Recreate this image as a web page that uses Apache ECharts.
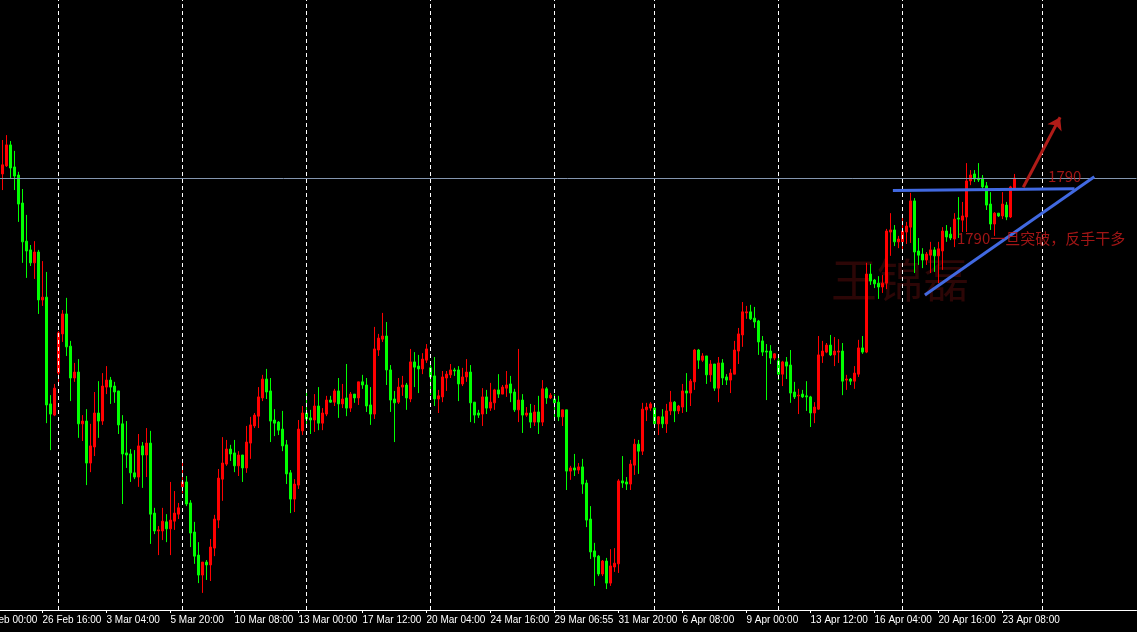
<!DOCTYPE html>
<html>
<head>
<meta charset="utf-8">
<script src="https://cdn.jsdelivr.net/npm/echarts@6/dist/echarts.min.js"></script>
<style>
html,body{margin:0;padding:0;background:#000;}
#chart{width:1137px;height:632px;}
</style>
</head>
<body>
<div id="chart"></div>
<script>
// ---- data: 4H candles, [open, close, low, high] ----
const ohlc = [
[1791.3,1793.9,1786.7,1801.0],[1793.6,1799.6,1793.3,1802.4],[1799.6,1793.0,1790.1,1800.7],[1793.3,1790.7,1786.7,1797.9],
[1791.0,1782.7,1777.6,1791.9],[1783.0,1771.9,1765.9,1787.0],[1772.1,1769.3,1761.6,1779.6],[1769.6,1765.9,1765.0,1771.0],
[1765.9,1769.0,1761.3,1772.1],[1769.0,1755.3,1751.3,1769.6],[1755.3,1756.1,1753.6,1766.4],[1756.1,1725.3,1720.1,1763.3],
[1725.6,1722.7,1712.4,1728.1],[1722.4,1730.1,1722.1,1731.3],[1734.4,1745.9,1731.0,1746.4],[1745.6,1751.3,1743.3,1752.4],
[1751.3,1741.9,1739.3,1755.9],[1742.1,1733.0,1726.4,1743.6],[1733.0,1734.7,1731.9,1737.3],[1734.7,1719.9,1715.9,1738.4],
[1719.9,1720.7,1715.0,1722.4],[1720.7,1708.7,1702.4,1724.1],[1708.7,1713.6,1706.1,1719.9],[1713.3,1723.0,1710.7,1729.0],
[1723.0,1720.7,1715.9,1732.1],[1720.7,1730.7,1719.6,1734.4],[1730.4,1732.4,1728.4,1736.4],[1732.4,1730.4,1725.6,1733.3],
[1730.7,1729.0,1725.9,1731.9],[1729.3,1719.6,1717.0,1729.3],[1719.9,1711.3,1697.0,1722.4],[1711.6,1711.0,1707.3,1720.7],
[1711.3,1705.9,1703.3,1712.7],[1705.9,1704.7,1704.1,1712.4],[1704.7,1713.6,1701.9,1717.0],[1713.6,1711.0,1701.6,1714.7],
[1711.0,1714.4,1704.7,1718.7],[1714.4,1694.1,1685.6,1717.9],[1694.4,1689.3,1688.4,1695.9],[1689.3,1689.6,1682.4,1690.7],
[1689.3,1692.1,1686.7,1695.9],[1691.9,1689.9,1686.1,1694.1],[1689.9,1692.4,1682.4,1703.3],[1692.1,1694.4,1689.6,1700.7],
[1694.1,1695.9,1692.7,1697.3],[1701.9,1703.3,1700.1,1709.9],[1703.3,1697.0,1696.4,1705.0],[1697.3,1688.7,1684.7,1698.1],
[1689.0,1682.1,1679.9,1691.9],[1682.4,1676.7,1674.4,1686.1],[1676.7,1680.4,1671.6,1680.4],[1680.4,1679.6,1675.3,1681.0],
[1679.6,1684.7,1675.0,1687.0],[1684.4,1692.7,1682.1,1693.9],[1692.4,1704.4,1690.1,1707.0],[1704.1,1708.7,1697.9,1716.1],
[1708.4,1712.7,1707.9,1715.3],[1712.7,1711.3,1709.3,1713.9],[1711.6,1707.9,1706.1,1715.3],[1707.9,1711.0,1705.0,1712.1],
[1711.0,1707.3,1703.3,1711.0],[1707.3,1714.7,1705.9,1719.3],[1714.4,1719.6,1709.9,1721.9],[1719.3,1722.4,1718.7,1723.0],
[1722.1,1727.6,1718.7,1730.4],[1727.3,1732.7,1726.4,1733.9],[1732.7,1729.0,1727.0,1735.6],[1729.3,1720.7,1714.7,1733.0],
[1721.0,1720.1,1716.4,1724.1],[1720.4,1718.1,1716.7,1720.7],[1718.4,1713.6,1712.1,1723.6],[1713.9,1705.6,1702.7,1715.3],
[1705.9,1698.4,1694.4,1706.7],[1698.4,1702.7,1694.7,1704.1],[1702.4,1718.4,1701.3,1721.0],[1717.9,1723.0,1716.7,1725.0],
[1723.0,1721.3,1719.6,1729.9],[1721.6,1721.0,1717.0,1723.9],[1721.0,1725.0,1717.6,1728.4],[1725.0,1720.1,1718.1,1730.4],
[1720.1,1723.0,1718.1,1724.4],[1722.7,1726.7,1722.1,1727.9],[1726.7,1726.1,1725.9,1727.9],[1726.1,1729.3,1725.0,1729.9],
[1729.3,1725.6,1721.6,1733.0],[1725.6,1727.0,1724.4,1731.3],[1727.3,1724.4,1722.1,1737.0],[1724.4,1728.4,1723.3,1729.0],
[1728.4,1727.3,1725.9,1728.4],[1727.3,1731.9,1725.3,1731.9],[1731.9,1731.0,1729.9,1733.9],[1731.0,1725.0,1723.3,1733.0],
[1725.3,1722.7,1719.6,1730.4],[1722.7,1741.3,1721.3,1747.6],[1741.0,1744.4,1739.3,1745.6],[1744.1,1745.0,1743.3,1751.6],
[1745.0,1735.3,1731.0,1749.0],[1735.3,1726.7,1723.3,1736.7],[1727.0,1725.9,1714.7,1729.3],[1726.1,1730.4,1725.6,1733.0],
[1730.4,1731.0,1727.9,1733.6],[1731.0,1727.3,1723.9,1731.6],[1727.0,1737.6,1726.1,1741.3],[1737.6,1736.1,1730.4,1740.4],
[1736.4,1735.6,1728.7,1739.6],[1735.6,1738.4,1734.1,1740.1],[1738.1,1741.3,1737.3,1742.7],[1735.9,1733.3,1728.1,1736.7],
[1733.6,1727.0,1725.0,1739.0],[1727.0,1727.9,1723.0,1729.6],[1727.6,1733.3,1726.1,1735.0],[1733.0,1734.1,1729.3,1735.0],
[1733.9,1735.3,1733.0,1737.0],[1735.3,1735.0,1733.6,1735.9],[1735.3,1731.3,1726.4,1736.4],[1731.3,1733.3,1730.7,1735.9],
[1733.3,1734.7,1731.9,1738.4],[1734.7,1725.9,1720.4,1736.7],[1726.1,1722.4,1720.1,1726.1],[1723.0,1722.4,1721.6,1723.9],
[1722.7,1727.6,1719.3,1730.1],[1727.6,1724.4,1722.7,1729.6],[1724.4,1726.1,1723.6,1731.6],[1725.9,1729.6,1723.9,1729.9],
[1729.6,1728.4,1727.3,1734.1],[1728.4,1730.4,1728.4,1731.0],[1730.1,1731.0,1727.6,1735.0],[1731.3,1728.7,1726.1,1733.6],
[1729.0,1723.9,1723.3,1729.9],[1723.9,1726.7,1720.4,1741.3],[1726.7,1722.4,1717.3,1728.4],[1722.4,1723.0,1721.9,1724.7],
[1723.0,1720.4,1718.7,1725.6],[1720.4,1723.3,1719.3,1725.3],[1723.3,1720.4,1717.0,1727.9],[1720.4,1729.9,1719.3,1732.4],
[1729.9,1727.3,1725.6,1730.4],[1727.3,1728.1,1727.0,1728.7],[1727.0,1725.9,1721.6,1728.4],[1726.1,1721.9,1720.7,1727.9],
[1721.9,1723.9,1719.3,1723.9],[1723.9,1706.4,1701.0,1723.9],[1706.4,1707.3,1703.9,1707.9],[1707.3,1706.7,1705.0,1711.3],
[1706.7,1707.6,1705.6,1708.7],[1707.6,1702.7,1699.9,1709.9],[1703.0,1692.4,1690.4,1703.9],[1692.7,1683.3,1681.3,1696.4],
[1683.6,1681.9,1673.6,1685.9],[1682.1,1677.0,1676.4,1682.4],[1677.0,1680.7,1676.4,1681.0],[1680.7,1674.4,1672.7,1681.6],
[1674.4,1679.3,1673.6,1684.1],[1679.0,1680.1,1677.6,1684.4],[1679.9,1703.6,1677.3,1704.1],[1703.6,1703.0,1701.6,1710.7],
[1703.3,1702.7,1701.0,1704.7],[1702.7,1708.4,1701.0,1709.6],[1708.1,1714.1,1705.3,1715.6],[1714.1,1712.1,1705.6,1715.3],
[1712.1,1724.1,1711.0,1725.9],[1723.9,1724.7,1720.7,1725.9],[1724.4,1725.6,1723.6,1726.1],[1724.4,1719.9,1719.9,1725.3],
[1719.9,1721.9,1716.7,1722.1],[1721.9,1719.9,1718.7,1724.1],[1719.9,1723.6,1717.3,1725.6],[1723.6,1726.1,1722.4,1729.3],
[1726.1,1723.6,1720.4,1726.4],[1723.6,1725.0,1722.7,1725.3],[1724.7,1729.3,1723.0,1731.3],[1729.3,1728.7,1723.3,1734.4],
[1728.7,1732.1,1725.0,1732.7],[1731.9,1741.0,1729.6,1741.3],[1741.0,1738.1,1735.6,1741.3],[1738.1,1739.3,1737.6,1740.1],
[1739.3,1733.9,1731.3,1739.3],[1733.9,1737.0,1731.9,1738.1],[1737.0,1730.1,1729.3,1737.0],[1730.1,1737.3,1726.1,1739.0],
[1737.3,1733.0,1731.0,1738.4],[1733.3,1732.4,1731.0,1734.1],[1732.4,1734.4,1728.7,1735.6],[1734.1,1741.0,1734.1,1743.6],
[1740.7,1745.6,1737.0,1747.3],[1745.3,1751.9,1741.9,1754.7],[1751.6,1751.9,1749.9,1753.6],[1751.9,1749.9,1749.6,1753.9],
[1750.1,1749.0,1747.3,1753.3],[1749.3,1743.3,1739.6,1749.6],[1743.6,1740.4,1739.3,1745.0],[1740.7,1740.4,1726.7,1742.7],
[1740.7,1738.7,1737.0,1742.4],[1738.7,1739.9,1738.1,1740.1],[1737.9,1734.1,1732.4,1739.3],[1734.1,1737.6,1730.7,1737.9],
[1737.6,1736.4,1732.7,1739.0],[1736.7,1728.7,1725.9,1741.0],[1729.0,1727.6,1727.0,1731.9],[1727.9,1728.1,1722.7,1729.9],
[1728.4,1727.6,1727.3,1729.6],[1727.9,1727.6,1723.6,1732.1],[1727.6,1723.0,1719.0,1727.9],[1723.0,1724.7,1720.1,1726.1],
[1724.1,1739.6,1723.9,1745.0],[1739.3,1740.7,1737.3,1743.6],[1740.4,1742.4,1740.1,1743.0],[1742.4,1739.6,1739.3,1745.3],
[1739.6,1740.7,1736.4,1744.7],[1740.4,1740.7,1737.3,1744.1],[1740.7,1732.1,1728.1,1743.0],[1732.4,1732.7,1729.6,1733.9],
[1732.7,1732.1,1731.0,1733.0],[1732.1,1734.4,1729.9,1736.4],[1734.1,1741.6,1733.3,1743.9],[1741.6,1740.4,1739.9,1745.0],
[1740.4,1762.7,1740.1,1765.9],[1762.7,1760.7,1759.6,1765.6],[1761.0,1759.9,1758.7,1761.3],[1760.1,1759.0,1755.6,1762.1],
[1759.0,1760.1,1757.3,1762.4],[1760.1,1775.0,1758.4,1775.6],[1774.7,1775.3,1767.9,1780.1],[1775.3,1771.9,1770.7,1776.7],
[1771.9,1772.7,1770.1,1773.6],[1771.9,1775.0,1769.0,1779.9],[1774.7,1776.4,1771.3,1777.6],[1776.1,1783.6,1771.6,1785.9],
[1783.6,1769.0,1763.0,1784.4],[1769.3,1768.1,1765.3,1773.0],[1768.4,1766.7,1764.4,1770.1],[1766.7,1768.4,1765.3,1769.0],
[1768.1,1769.6,1763.0,1771.9],[1769.6,1767.9,1763.3,1770.4],[1767.9,1769.9,1760.1,1771.9],[1769.3,1775.0,1763.9,1776.1],
[1775.0,1773.3,1771.9,1776.7],[1774.1,1773.0,1772.4,1776.1],[1772.7,1778.4,1770.4,1780.1],[1778.7,1778.4,1773.0,1784.7],
[1778.1,1779.3,1774.7,1783.3],[1779.0,1789.3,1774.7,1794.4],[1789.3,1791.0,1788.1,1792.4],[1791.3,1789.9,1789.0,1792.4],
[1790.1,1789.6,1789.0,1794.4],[1790.1,1787.6,1786.7,1791.0],[1787.9,1782.4,1781.0,1789.0],[1782.7,1777.0,1775.3,1786.1],
[1777.0,1780.1,1773.6,1780.4],[1780.1,1779.3,1779.0,1780.1],[1779.3,1782.7,1778.4,1786.1],[1782.4,1779.0,1778.1,1783.3],
[1779.0,1787.6,1778.7,1787.9],[1787.3,1790.1,1787.0,1791.3]
];
// time-axis tick labels, one every 16 bars (first one falls before the first visible bar)
const tickLabels = ['24 Feb 00:00','26 Feb 16:00','3 Mar 04:00','5 Mar 20:00','10 Mar 08:00','13 Mar 00:00',
  '17 Mar 12:00','20 Mar 04:00','24 Mar 16:00','29 Mar 06:55','31 Mar 20:00','6 Apr 08:00','9 Apr 00:00',
  '13 Apr 12:00','16 Apr 04:00','20 Apr 16:00','23 Apr 08:00'];
// bar indices where a new week starts (period separators)
const weekStarts = [14,45,76,107,138,163,194,225,260];
// horizontal price level
const levels = [1790];
// hand-drawn annotations in (bar index, price)
const resistanceLine = [[222.6,1786.6],[268.0,1787.1]];
const supportLine = [[230.6,1756.7],[272.95,1790.5]];
const breakoutArrow = [[255.2,1787.5],[264.4,1807.5]];
const noteLabels = ['1790','1790一旦突破，反手干多'];
const notePoints = [[261.4,1790.7],[238.6,1772.9]];
const watermarkText = ['王锦磊'];
const watermarkPoint = [[207.1,1761.0]];

// ---- layout constants ----
const leadBars = 6, totalSlots = 290, tickStep = 16;
const slotPx = 4, plotTop = 0, plotHeight = 610, pxPerPrice = 3.5, priceTop = 1841;
const priceBottom = priceTop - plotHeight / pxPerPrice;

const categories = Array.from({length: totalSlots}, (_, i) => String(i));
const candleData = [];
for (let i = 0; i < leadBars; i++) candleData.push('-');
ohlc.forEach(d => candleData.push(d));

const isTick = (idx) => idx % tickStep === 0 && idx / tickStep < tickLabels.length;

const chart = echarts.init(document.getElementById('chart'), null, {renderer: 'canvas'});
const option = {
  animation: false,
  backgroundColor: '#000000',
  grid: {left: -23.5, top: plotTop, width: totalSlots * slotPx, height: plotHeight, containLabel: false, outerBoundsMode: 'none'},
  xAxis: [{
    type: 'category',
    data: categories,
    boundaryGap: true,
    axisLine: {show: true, lineStyle: {color: '#ffffff', width: 1}},
    axisTick: {show: true, alignWithLabel: true, inside: false, length: 3, interval: isTick,
      lineStyle: {color: '#ffffff'}},
    axisLabel: {show: true, color: '#ffffff', fontSize: 10, fontFamily: "'Liberation Sans', Arial, sans-serif",
      align: 'left', margin: 5, showMinLabel: true, hideOverlap: false, interval: isTick,
      formatter: (v) => { const n = Number(v); return (n % tickStep === 0 && tickLabels[n / tickStep]) || ''; }},
    splitLine: {show: false}
  }, {
    type: 'value', show: false, min: -leadBars - 0.5, max: totalSlots - leadBars - 0.5,
    splitLine: {show: false}, axisLine: {show: false}, axisTick: {show: false}, axisLabel: {show: false}
  }],
  yAxis: [{
    type: 'value', show: false, min: priceBottom, max: priceTop, scale: true,
    splitLine: {show: false}, axisLine: {show: false}, axisTick: {show: false}, axisLabel: {show: false}
  }],
  series: [
    {
      name: 'watermark', type: 'scatter', xAxisIndex: 1, yAxisIndex: 0, z: 0,
      symbolSize: 0, silent: true,
      data: watermarkPoint.map((p, i) => ({value: p, name: watermarkText[i]})),
      itemStyle: {color: 'rgba(0,0,0,0)'},
      label: {show: true, position: 'right', distance: 0, formatter: (p) => p.name,
        color: 'rgba(100,14,14,0.55)', fontSize: 46, fontFamily: "'Noto Sans CJK SC'", fontWeight: 'normal'}
    },
    {
      name: 'XAUUSD H4', type: 'candlestick', xAxisIndex: 0, yAxisIndex: 0, z: 3,
      barWidth: 2,
      data: candleData,
      itemStyle: {color: '#ff0000', color0: '#00ff00', borderColor: '#ff0000', borderColor0: '#00ff00', borderWidth: 1},
      markLine: {
        silent: true, symbol: ['none', 'none'], animation: false,
        label: {show: false},
        data: [
          ...weekStarts.map(i => ({xAxis: i + leadBars, lineStyle: {color: '#ffffff', type: [4, 3], width: 1}})),
          ...levels.map(v => ({yAxis: v, lineStyle: {color: '#8496b0', type: 'solid', width: 1}}))
        ]
      }
    },
    {
      name: 'trendlines', type: 'lines', coordinateSystem: 'cartesian2d', xAxisIndex: 1, yAxisIndex: 0, z: 5,
      polyline: false, silent: true,
      data: [
        {coords: resistanceLine, lineStyle: {color: '#4169e1', width: 3, opacity: 1}},
        {coords: supportLine, lineStyle: {color: '#4169e1', width: 3, opacity: 1}}
      ]
    },
    {
      name: 'arrow', type: 'lines', coordinateSystem: 'cartesian2d', xAxisIndex: 1, yAxisIndex: 0, z: 5,
      silent: true, symbol: ['none', 'arrow'], symbolSize: 12,
      data: [{coords: breakoutArrow}],
      lineStyle: {color: '#b01c18', width: 3, opacity: 1}
    },
    {
      name: 'notes', type: 'scatter', xAxisIndex: 1, yAxisIndex: 0, z: 6,
      symbolSize: 0, silent: true,
      data: notePoints.map((p, i) => ({value: p, name: noteLabels[i]})),
      itemStyle: {color: 'rgba(0,0,0,0)'},
      label: {show: true, position: 'right', distance: 0, formatter: (p) => p.name,
        color: '#c81a1a', fontSize: 15, fontFamily: "'Noto Sans CJK SC'"}
    }
  ]
};
chart.setOption(option);
</script>
</body>
</html>
